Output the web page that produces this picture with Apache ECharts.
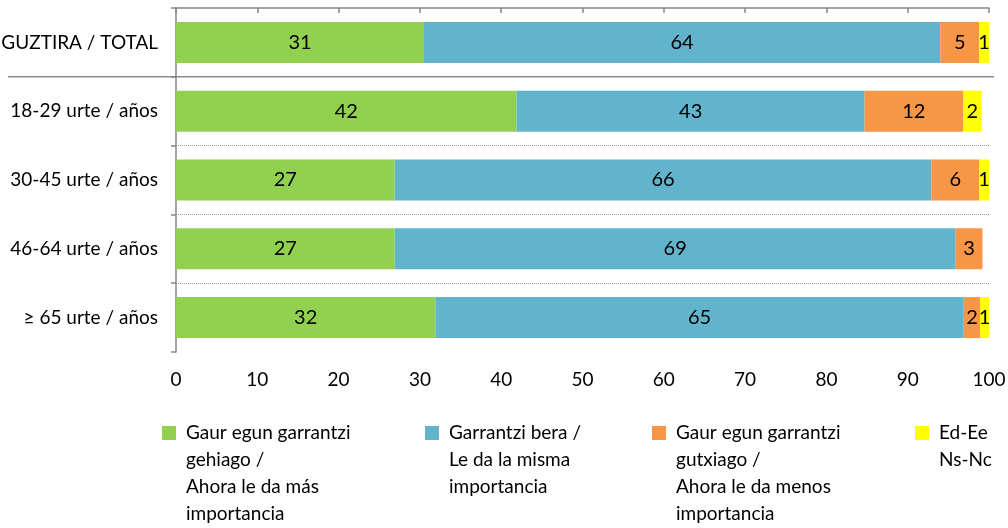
<!DOCTYPE html>
<html>
<head>
<meta charset="utf-8">
<script src="https://cdn.jsdelivr.net/npm/echarts@6/dist/echarts.min.js"></script>
<style>
  html, body { margin: 0; padding: 0; background: #fff; }
  #chart { width: 1008px; height: 528px; }
</style>
</head>
<body>
<div id="chart"></div>
<script>
// categories, top to bottom
const categories = ['GUZTIRA / TOTAL', '18-29 urte / años', '30-45 urte / años', '46-64 urte / años', '≥ 65 urte / años'];

// series values (%)
const masImportancia = [30.5, 41.9, 26.9, 26.9, 31.9];
const mismaImportancia = [63.5, 42.8, 66.0, 69.0, 65.0];
const menosImportancia = [4.8, 12.1, 5.9, 3.3, 2.0];
const nsNc = [1.3, 2.3, 1.3, 0, 1.3];

const seriesNames = [
    'Gaur egun garrantzi\ngehiago /\nAhora le da más\nimportancia',
    'Garrantzi bera /\nLe da la misma\nimportancia',
    'Gaur egun garrantzi\ngutxiago /\nAhora le da menos\nimportancia',
    'Ed-Ee\nNs-Nc'
];
const colors = ['#92d050', '#62b3cc', '#f79646', '#ffff00'];

// row boundaries on the hidden helper axis
const dottedRows = [2, 3, 4];
const totalSeparator = 1;

const FONT = 'Lato';
const LINE_H = 27;
const ICON_Y = 433;

let myChart = echarts.init(document.getElementById('chart'));

function barSeries(name, values, color) {
    return {
        name: name,
        type: 'bar',
        stack: 'total',
        barWidth: 41,
        data: values,
        itemStyle: {color: color},
        label: {
            show: true,
            position: 'inside',
            color: '#000',
            fontFamily: FONT,
            fontSize: 20,
            formatter: function (p) {
                return p.value > 0 ? String(Math.round(p.value)) : '';
            }
        }
    };
}

// one legend per item so each sits in its own column;
// blank lines in front keep the icon level with the first line
const legendLeft = [162, 425, 652, 915];
const legends = seriesNames.map(function (name, i) {
    const lines = name.split('\n').length;
    const pad = new Array(lines).join('\n');
    return {
        left: legendLeft[i],
        top: ICON_Y - (2 * lines - 1) * LINE_H / 2,
        padding: 0,
        itemWidth: 14,
        itemHeight: 14,
        icon: 'rect',
        selectedMode: false,
        data: [name],
        formatter: function (n) { return pad + n; },
        textStyle: {
            fontFamily: FONT,
            fontSize: 19,
            color: '#000',
            lineHeight: LINE_H,
            padding: [0, 0, 0, 5]
        }
    };
});

let options = {
    animation: false,
    color: colors,
    grid: {left: 176, right: 19, top: 8, bottom: 176, outerBoundsMode: 'none'},
    legend: legends,
    xAxis: {
        type: 'value',
        min: 0,
        max: 100,
        interval: 10,
        axisLine: {show: true, lineStyle: {color: '#868686', width: 1.5}},
        axisTick: {show: true, length: 5, lineStyle: {color: '#868686', width: 1.5}},
        axisLabel: {color: '#000', fontFamily: FONT, fontSize: 19, margin: 18},
        splitLine: {show: false}
    },
    yAxis: [{
        type: 'category',
        inverse: true,
        data: categories,
        axisLine: {show: true, lineStyle: {color: '#868686', width: 1.5}},
        axisTick: {show: true, length: 5, lineStyle: {color: '#868686', width: 1.5}},
        axisLabel: {color: '#000', fontFamily: FONT, fontSize: 19, margin: 18},
        splitLine: {show: false}
    }, {
        type: 'value',
        show: false,
        inverse: true,
        min: 0,
        max: categories.length,
        splitLine: {show: false}
    }],
    series: [
        barSeries(seriesNames[0], masImportancia, colors[0]),
        barSeries(seriesNames[1], mismaImportancia, colors[1]),
        barSeries(seriesNames[2], menosImportancia, colors[2]),
        barSeries(seriesNames[3], nsNc, colors[3]),
        {
            type: 'line',
            yAxisIndex: 1,
            data: [],
            silent: true,
            markLine: {
                silent: true,
                symbol: 'none',
                label: {show: false},
                lineStyle: {color: '#9a9a9a', type: 'dotted', width: 1},
                data: dottedRows.map(function (v) { return {yAxis: v}; })
            }
        }
    ]
};
myChart.setOption(options);

// solid separator under the total row, wider than the grid
const sepY = myChart.convertToPixel({yAxisIndex: 1}, totalSeparator);
myChart.setOption({
    graphic: [{
        type: 'line',
        silent: true,
        shape: {x1: 8, y1: sepY, x2: 994, y2: sepY},
        style: {stroke: '#8c8c8c', lineWidth: 1.5}
    }]
});
</script>
</body>
</html>
